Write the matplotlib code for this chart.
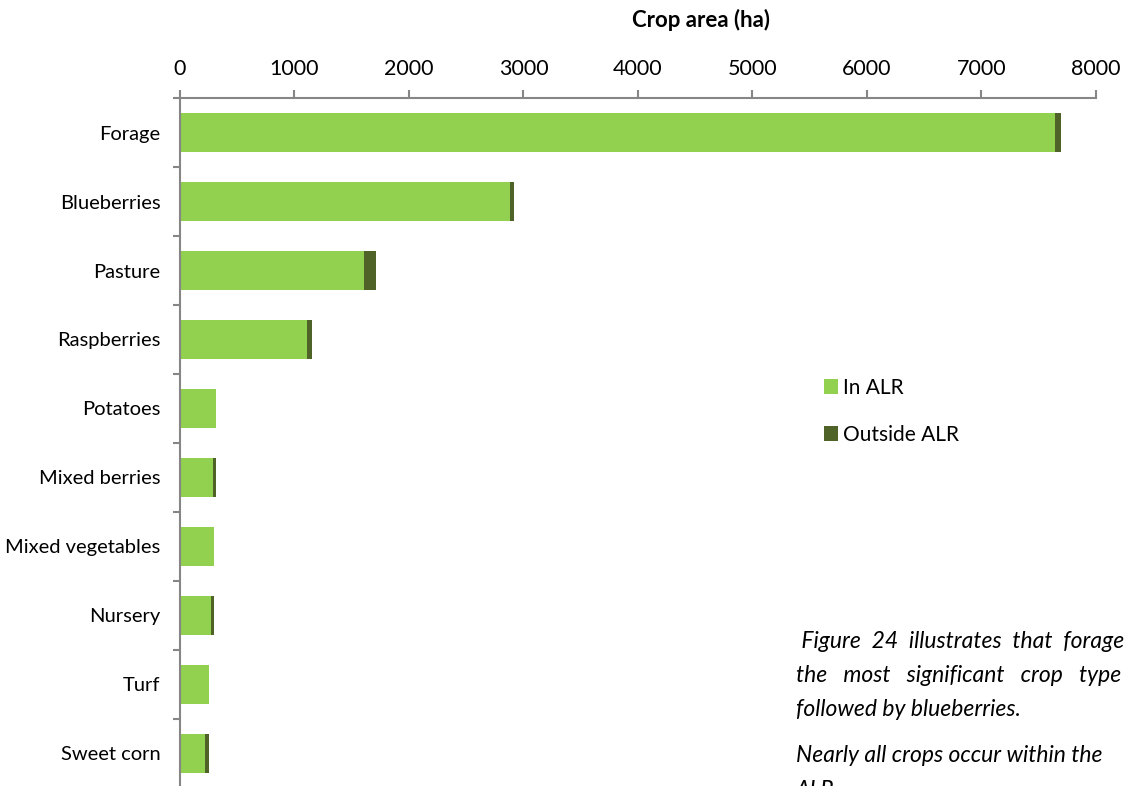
import matplotlib.pyplot as plt
import numpy as np

plt.rcParams['font.family'] = ['Lato', 'DejaVu Sans']

crops = ["Forage", "Blueberries", "Pasture", "Raspberries", "Potatoes",
         "Mixed berries", "Mixed vegetables", "Nursery", "Turf", "Sweet corn"]
in_alr = [7640, 2880, 1610, 1105, 317, 285, 300, 268, 250, 215]
outside_alr = [55, 35, 100, 50, 0, 32, 0, 32, 0, 35]

green = "#92D050"
dark = "#4F6228"
grey = "#868686"

fig = plt.figure(figsize=(11.25, 7.86), dpi=100)
ax = fig.add_axes([0.16, -0.0025, 0.8142, 0.8778])

y = np.arange(len(crops))
ax.barh(y, in_alr, height=0.565, color=green, label="In ALR")
ax.barh(y, outside_alr, left=in_alr, height=0.565, color=dark, label="Outside ALR")

ax.set_xlim(0, 8000)
ax.set_ylim(len(crops) - 0.5, -0.5)
ax.set_xticks(np.arange(0, 8001, 1000))
ax.set_yticks(y)
ax.set_yticklabels(crops)
ax.set_yticks(np.arange(-0.5, len(crops), 1), minor=True)

ax.xaxis.tick_top()
ax.tick_params(axis='x', length=6, width=1.5, color=grey, pad=8, labelsize=15.5)
ax.tick_params(axis='y', which='major', length=0, pad=14, labelsize=14.5)
ax.tick_params(axis='y', which='minor', length=5, width=1.5, color=grey)

for side in ["right", "bottom"]:
    ax.spines[side].set_visible(False)
for side in ["top", "left"]:
    ax.spines[side].set_color(grey)
    ax.spines[side].set_linewidth(1.5)

fig.text(0.623, 0.974, "Crop area (ha)", ha="center", va="center",
         fontsize=16, fontweight="bold")

ax.legend(loc="upper left", bbox_to_anchor=(0.683, 0.622), frameon=False,
          fontsize=15, handlelength=0.65, handleheight=0.75, handletextpad=0.25,
          labelspacing=1.3)

# side note, wrapped and justified by hand
notes = [(" Figure  24  illustrates  that  forage is", 642),
         ("the   most   significant   crop   type", 676),
         ("followed by blueberries.", 710),
         ("Nearly all crops occur within the", 756),
         ("ALR.", 791)]
for line, py in notes:
    fig.text(796 / 1125, 1 - py / 786, line, ha="left", va="center",
             fontsize=16.5, style="italic")

fig.savefig("out.png", dpi=100)
